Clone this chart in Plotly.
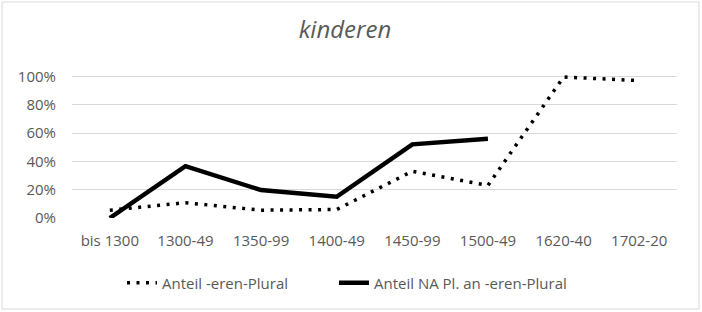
import plotly.graph_objects as go

categories = ["bis 1300", "1300-49", "1350-99", "1400-49", "1450-99", "1500-49", "1620-40", "1702-20"]
anteil_eren = [0.055, 0.108, 0.055, 0.06, 0.33, 0.23, 0.995, 0.97]
anteil_na = [0.0, 0.366, 0.197, 0.15, 0.52, 0.56, None, None]
tick_vals = [0, 0.2, 0.4, 0.6, 0.8, 1.0]
tick_text = ["0%", "20%", "40%", "60%", "80%", "100%"]

font_family = "Open Sans"
text_color = "#595959"

fig = go.Figure()
fig.add_trace(go.Scatter(
    x=categories, y=anteil_eren, mode="lines", name="Anteil -eren-Plural",
    line=dict(color="black", width=3.5, dash="3px,6.5px"), legend="legend",
))
fig.add_trace(go.Scatter(
    x=categories, y=anteil_na, mode="lines", name="Anteil NA Pl. an -eren-Plural",
    line=dict(color="black", width=4.5), connectgaps=False, legend="legend2",
))

leg_common = dict(orientation="h", xanchor="left", yanchor="middle", y=(218-283)/170,
                  bgcolor="rgba(0,0,0,0)",
                  font=dict(family=font_family, size=15, color=text_color))

fig.update_layout(
    width=702, height=312,
    margin=dict(l=72, r=25, t=48, b=94),
    paper_bgcolor="white", plot_bgcolor="white",
    title=dict(text="<i>kinderen</i>", x=345/702, xanchor="center", xref="container",
               y=1-30/312, yanchor="middle", yref="container",
               font=dict(family=font_family, size=24, color=text_color)),
    font=dict(family=font_family, size=15, color=text_color),
    showlegend=True,
    legend=dict(x=(122-72)/605, **leg_common),
    legend2=dict(x=(334-72)/605, **leg_common),
    xaxis=dict(range=[-0.5, 7.5], showgrid=False, showline=False, zeroline=False, ticks="",
               ticklabelstandoff=12, tickfont=dict(size=15, color=text_color)),
    yaxis=dict(range=[0, 1.2], tickvals=tick_vals, ticktext=tick_text,
               showgrid=True, gridcolor="#D9D9D9", gridwidth=1, zeroline=False, showline=False,
               ticks="", ticklabelstandoff=15, tickfont=dict(size=15, color=text_color)),
    shapes=[dict(type="rect", xref="paper", yref="paper",
                 x0=(2-72)/605, x1=(699-72)/605, y0=(218-309)/170, y1=(218-2)/170,
                 line=dict(color="#D9D9D9", width=1), fillcolor="rgba(0,0,0,0)", layer="below")],
)

fig.write_html("out.html")
